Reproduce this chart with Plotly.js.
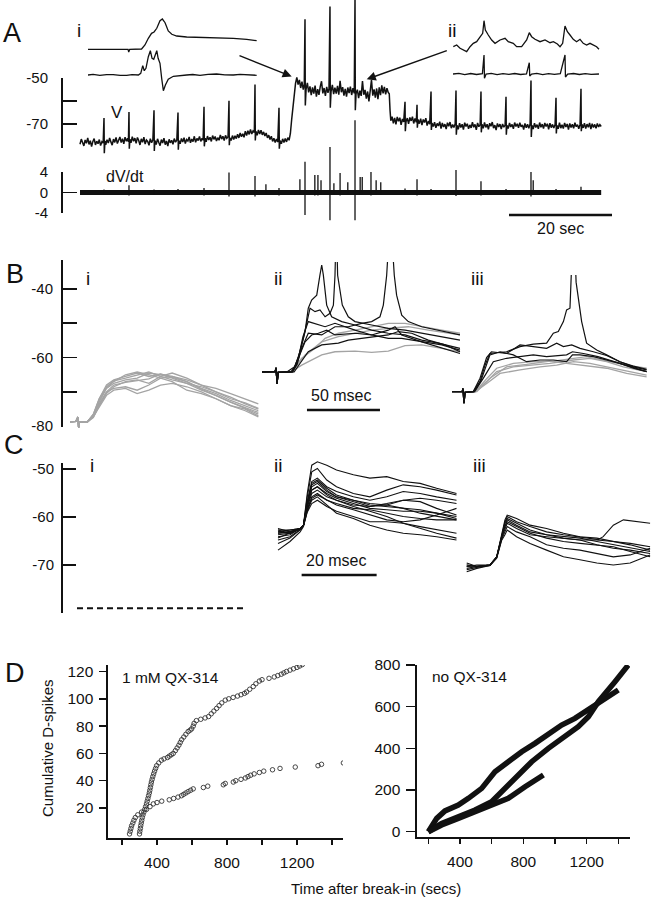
<!DOCTYPE html>
<html><head><meta charset="utf-8">
<script src="https://cdn.plot.ly/plotly-3.0.1.min.js"></script>
<style>html,body{margin:0;padding:0;background:#fff;}#chart{width:651px;height:899px;}</style>
</head><body><div id="chart"></div>
<script>
// ---------------- DATA ----------------
// Panel A: membrane potential V (time s, mV)
const vTrace = [
[0,-78.6],[0.25,-76.4],[0.5,-77.9],[0.75,-79.3],[1,-76.8],[1.25,-78.2],[1.5,-75.9],[1.75,-78.7],[2,-77.1],[2.25,-79.6],[2.5,-77.4],[2.75,-76.2],[3,-78.9],[3.25,-77.3],[3.5,-78.4],[3.75,-76.6],[4,-79.2],[4.25,-77.5],[4.5,-78.1],
[4.66,-67.4],[4.72,-82.5],[4.85,-77.2],
[5,-78.8],[5.25,-76.7],[5.5,-78.1],[5.75,-75.9],[6,-77.6],[6.25,-79.0],[6.5,-76.4],[6.75,-77.8],[7,-75.7],[7.25,-78.3],[7.5,-76.9],[7.75,-75.5],[8,-77.9],[8.25,-76.2],[8.5,-78.4],[8.75,-75.6],[9,-77.3],[9.25,-76.1],[9.4,-77.6],
[9.51,-64.8],[9.57,-80.5],[9.7,-76.5],
[9.9,-78.0],[10.15,-75.4],[10.4,-77.3],[10.65,-76.0],[10.9,-78.2],[11.15,-75.7],[11.4,-77.0],[11.65,-78.9],[11.9,-76.3],[12.15,-77.8],[12.4,-75.6],[12.65,-78.5],[12.9,-76.8],[13.15,-77.4],[13.4,-79.1],[13.65,-76.2],[13.9,-78.0],[14.15,-76.7],
[14.37,-64],[14.43,-81.5],[14.55,-77],
[14.8,-78.7],[15.05,-76.3],[15.3,-77.9],[15.55,-79.2],[15.8,-76.6],[16.05,-78.1],[16.3,-76.0],[16.55,-78.8],[16.8,-77.2],[17.05,-79.4],[17.3,-76.5],[17.55,-78.0],[17.8,-76.9],[18.05,-78.6],[18.3,-76.2],[18.55,-77.7],[18.8,-76.8],
[19.03,-65],[19.09,-81],[19.2,-77],
[19.45,-78.4],[19.7,-76.1],[19.95,-77.7],[20.2,-75.8],[20.45,-78.3],[20.7,-76.6],[20.95,-77.2],[21.2,-75.5],[21.45,-78.0],[21.7,-76.4],[21.95,-77.5],[22.2,-75.2],[22.45,-77.8],[22.7,-76.1],[22.95,-77.0],[23.2,-75.3],[23.45,-77.4],[23.7,-76.0],[23.9,-76.9],
[24.08,-62.5],[24.14,-79.5],[24.3,-76],
[24.5,-77.6],[24.75,-75.1],[25,-76.8],[25.25,-75.6],[25.5,-77.4],[25.75,-74.9],[26,-76.5],[26.25,-75.3],[26.5,-77.2],[26.75,-75.8],[27,-76.9],[27.25,-74.6],[27.5,-76.4],[27.75,-75.2],[28,-77.0],[28.25,-74.8],[28.5,-76.1],[28.75,-75.4],
[28.93,-60],[28.99,-79],[29.1,-75.8],
[29.35,-77.0],[29.6,-74.9],[29.85,-76.6],[30.1,-75.0],[30.35,-76.2],[30.6,-74.3],[30.85,-75.9],[31.1,-73.8],[31.35,-75.4],[31.6,-74.1],[31.85,-75.6],[32.1,-73.0],[32.35,-74.9],[32.6,-72.8],[32.85,-74.4],[33.1,-72.3],[33.35,-74.2],[33.6,-72.9],[33.85,-73.6],
[33.98,-53],[34.04,-77],[34.15,-73],
[34.4,-74.8],[34.65,-72.5],[34.9,-74.2],[35.15,-72.6],[35.4,-74.6],[35.65,-73.3],[35.9,-75.1],[36.15,-73.8],[36.4,-75.9],[36.65,-74.7],[36.9,-76.6],[37.15,-75.2],[37.4,-77.4],[37.65,-76.0],[37.9,-77.9],[38.15,-76.4],[38.4,-77.6],
[38.64,-63],[38.7,-80.5],[38.85,-77],
[39.1,-78.4],[39.35,-76.3],[39.6,-77.9],[39.85,-76.1],[40.1,-77.6],[40.35,-75.8],[40.6,-76.9],[40.85,-74.0],[41.1,-68],[41.35,-63],[41.6,-57],[41.85,-52.5],[42.1,-50],[42.35,-53],[42.6,-51],[42.85,-54.5],[43.1,-51.8],[43.35,-55.2],[43.55,-53],
[43.69,-25],[43.75,-62],[43.9,-55],
[44.15,-52.3],[44.4,-56.4],[44.65,-53.8],[44.9,-57.6],[45.15,-54.2],[45.4,-56.9],[45.65,-53.5],[45.9,-58.2],[46.15,-55.0],[46.4,-57.4],[46.65,-53.9],[46.9,-51.6],[47.15,-56.8],[47.4,-54.5],[47.65,-57.9],[47.9,-54.0],[48.15,-56.6],[48.35,-54.8],
[48.54,-19.6],[48.6,-63],[48.75,-56],
[49.0,-53.2],[49.25,-57.1],[49.5,-54.4],[49.75,-56.9],[50.0,-53.6],[50.25,-57.4],[50.5,-51.4],[50.75,-56.3],[51.0,-54.1],[51.25,-57.8],[51.5,-54.9],[51.75,-58.2],[52.0,-54.3],[52.25,-56.7],[52.5,-53.9],[52.75,-57.5],[53.0,-54.6],[53.25,-56.8],
[53.40,-16.5],[53.46,-64],[53.6,-57],
[53.85,-55.2],[54.1,-58.8],[54.35,-55.6],[54.6,-57.9],[54.85,-51.5],[55.1,-57.4],[55.35,-55.3],[55.6,-59.1],[55.85,-56.0],[56.1,-60.2],[56.35,-55.8],[56.6,-51.0],[56.85,-57.8],[57.1,-55.1],[57.35,-58.6],[57.6,-54.7],[57.85,-59.3],[58.1,-54.2],[58.35,-57.6],[58.6,-53.4],[58.85,-56.8],[59.1,-54.0],[59.35,-57.2],[59.6,-54.6],[59.85,-56.4],[60.05,-57],
[60.2,-64],[60.35,-68.5],[60.6,-66.8],[60.85,-69.6],[61.1,-67.3],[61.35,-70.1],[61.6,-66.9],[61.85,-68.8],[62.1,-67.2],[62.35,-70.3],[62.6,-67.8],[62.85,-69.1],
[63.11,-60.4],[63.17,-73],[63.3,-69],
[63.55,-67.4],[63.8,-69.9],[64.05,-67.1],[64.3,-68.6],[64.55,-66.8],[64.8,-69.7],[65.05,-67.5],[65.3,-69.2],
[65.44,-61.7],[65.5,-71.5],[65.65,-68],
[65.9,-69.8],[66.15,-67.6],[66.4,-70.4],[66.65,-68.0],[66.9,-69.3],[67.15,-67.4],[67.4,-70.6],[67.65,-68.6],[67.9,-70.0],
[68.16,-56],[68.22,-72.5],[68.35,-69.5],
[68.6,-71.0],[68.85,-69.2],[69.1,-71.6],[69.35,-69.7],[69.6,-70.8],[69.85,-68.9],[70.1,-71.9],[70.35,-69.5],[70.6,-71.2],[70.85,-70.0],[71.1,-72.1],[71.35,-69.4],[71.6,-70.9],[71.85,-69.1],[72.1,-71.7],[72.35,-70.2],[72.6,-71.4],[72.85,-69.8],
[73.01,-55.6],[73.07,-74.5],[73.2,-70.5],
[73.45,-72.2],[73.7,-69.6],[73.95,-71.4],[74.2,-70.0],[74.45,-72.3],[74.7,-69.4],[74.95,-71.0],[75.2,-69.8],[75.45,-72.0],[75.7,-70.3],[75.95,-71.6],[76.2,-69.2],[76.45,-71.3],[76.7,-70.1],[76.95,-72.4],[77.2,-69.5],[77.45,-71.1],[77.7,-70.2],
[77.86,-56],[77.92,-73.5],[78.05,-70],
[78.3,-71.8],[78.55,-69.3],[78.8,-71.4],[79.05,-70.0],[79.3,-72.2],[79.55,-69.6],[79.8,-70.9],[80.05,-69.1],[80.3,-71.7],[80.55,-70.4],[80.8,-72.5],[81.05,-69.7],[81.3,-71.2],[81.55,-70.0],[81.8,-72.1],[82.05,-69.9],[82.3,-71.3],[82.55,-70.4],
[82.72,-58.3],[82.78,-74.5],[82.9,-70.5],
[83.15,-71.9],[83.4,-69.5],[83.65,-71.2],[83.9,-70.1],[84.15,-72.0],[84.4,-69.3],[84.65,-71.0],[84.9,-69.8],[85.15,-71.6],[85.4,-69.4],[85.65,-71.1],[85.9,-70.3],[86.15,-72.3],[86.4,-69.7],[86.65,-71.5],[86.9,-70.0],[87.15,-71.8],[87.4,-69.9],
[87.57,-51.3],[87.63,-75.5],[87.75,-70.5],
[88.0,-72.1],[88.25,-69.6],[88.5,-71.4],[88.75,-70.2],[89.0,-72.0],[89.25,-69.3],[89.5,-71.3],[89.75,-70.0],[90.0,-71.9],[90.25,-69.5],[90.5,-71.0],[90.75,-69.8],[91.0,-72.2],[91.25,-69.6],[91.5,-71.5],[91.75,-70.1],[92.0,-71.6],[92.25,-70.2],
[92.43,-58.7],[92.49,-74],[92.6,-70.5],
[92.85,-72.0],[93.1,-69.4],[93.35,-71.7],[93.6,-70.3],[93.85,-71.9],[94.1,-69.5],[94.35,-71.2],[94.6,-69.9],[94.85,-72.3],[95.1,-69.7],[95.35,-71.4],[95.6,-70.0],[95.85,-71.8],[96.1,-69.4],[96.35,-71.1],[96.6,-70.2],[96.85,-72.0],[97.1,-70.1],
[97.28,-54.8],[97.34,-73],[97.45,-70],
[97.7,-71.6],[97.95,-69.6],[98.2,-71.9],[98.45,-70.0],[98.7,-71.3],[98.95,-69.5],[99.2,-72.1],[99.45,-69.8],[99.7,-71.4],[99.95,-70.1],[100.2,-71.8],[100.45,-69.7],[100.7,-71.2],[100.95,-70.2],[101.2,-71.0]
];
// Panel A: dV/dt baseline span and spikes (time s, top, bottom)
const dvBaseT = [0, 101.2];
const dvBaseV = [0, 0];
const dvSpikeT  = [4.66,9.51,14.37,19.03,24.08,28.93,33.98,36.1,38.64,42.7,43.69,45.6,46.2,46.8,48.54,49.3,50.5,52.0,53.40,54.4,54.8,56.5,57.5,58.4,63.11,65.44,68.16,73.01,77.86,82.72,87.57,88.0,92.43,97.28];
const dvSpikeHi = [0.6,1.4,0.6,0.7,0.9,3.9,3.2,1.6,0.9,2.6,6.0,3.4,3.4,2.4,8.9,1.8,3.8,2.0,14.1,3.0,3.0,4.0,2.4,2.0,0.8,2.6,0.7,4.4,2.2,0.7,4.0,2.4,0.7,1.1];
const dvSpikeLo = [-0.5,-0.6,-0.5,-0.5,-0.6,-0.8,-0.8,-0.4,-0.6,-0.5,-4.4,-0.6,-0.6,-0.5,-5.4,-0.5,-0.6,-0.5,-5.4,-0.5,-0.5,-0.6,-0.5,-0.5,-0.5,-0.6,-0.5,-0.7,-0.6,-0.5,-0.8,-0.5,-0.5,-0.5];
const scaleBarA = {start: 83.3, length: 20, level: -4.4, label: '20 sec'};
const vTicks = [-80,-70,-60,-50], vTickText = ['','-70','','-50'];
const dvTicks = [-4,0,4], dvTickText = ['-4','0','4'];

// Insets (arbitrary units)
const insetI_top = [[0,50.7],[10,50.7],[22.9,50.7],[23.7,50.7],[24.1,48],[24.7,50.7],[31.7,51],[33.7,55],[35.7,61.7],[37.6,66.7],[39.1,68],[40.7,71.7],[42.6,79.3],[44,81],[45.6,77.3],[47.5,69],[49.6,65.7],[52.5,64],[58.4,63],[66.3,62.7],[76.1,62.3],[86,61.7],[93.9,60.7],[99.8,59.3]];
const insetI_bot = [[0,25],[3,25.6],[7,24.7],[11,25.4],[14.9,25.3],[19,24.6],[22.9,24.7],[26,25.4],[29.8,25],[31.2,26.7],[32.4,34.3],[33.3,29.3],[34.3,31.7],[35.7,43.3],[36.9,49.3],[37.9,41.7],[38.9,40.7],[39.9,46.7],[40.7,49.3],[41.5,41.7],[42.6,36.7],[43.6,21.7],[44.6,9.3],[45.8,15],[47.5,20.7],[50.5,23.7],[54,24.6],[58.4,25],[62,25.5],[66.3,24.7],[71,25.6],[76.1,26],[81,25.2],[86,25],[90,25.6],[93.9,25],[99.8,24.7]];
const insetII_top = [[0.2,43.3],[2.5,45],[4.8,41.7],[9.3,38.3],[11.6,43.3],[13.8,46.7],[16.1,48.3],[18.4,53.3],[20.2,56.7],[21.1,69.3],[22,60],[24,55],[26.3,50],[28.6,46.7],[32,50],[35.4,51.7],[37.6,48.3],[41,46.7],[43.3,43.3],[46.7,43.3],[50.1,50],[51.9,57.3],[53.5,53.3],[55.8,50.7],[59.2,48.3],[62.6,50],[66,47.3],[68.3,48.3],[71,46],[72.8,43.3],[74.6,46.7],[76.2,64],[77.8,58.3],[79.6,55],[81.8,50.7],[84.1,48.3],[86.4,50.7],[88.6,46.7],[90.9,45],[93.2,46.7],[95.4,45],[97.7,43.3],[99.3,40.7]];
const insetII_bot = [[0,16],[4,16.7],[8,15.3],[12,16.5],[16,15.5],[20,16.3],[21.1,35],[21.4,11.7],[22.5,16],[26,16.6],[30,15.4],[34,16.4],[38,15.6],[42,16.5],[46,15.5],[50,16.2],[51.9,27.3],[52.2,14],[53.5,16],[57,16.6],[61,15.4],[65,16.3],[69,15.6],[73,16.4],[76.2,35],[76.5,13],[78,16],[82,16.5],[86,15.5],[90,16.4],[94,15.6],[99.3,16]];

// Panel B (ms, mV)
const bTicks = [-80,-70,-60,-50,-40], bTickText = ['-80','','-60','','-40'];
const biT = [0,4,5.4,5.9,6.5,12,16,20,25,30,38,46,54,62,70,80,90,100,110,120,129];
const biBase = [-78.7,-78.6,-77.3,-80.4,-78.8,-78.7];
const biRise = [
 [-76.5,-72,-68,-66.5,-65.5,-64.5,-65.5,-64.8,-65.5,-67,-69,-70.5,-72.5,-74,-75.5],
 [-77,-73,-69,-67.5,-66.5,-66,-64.5,-65,-66,-67.5,-69.5,-71,-73,-74.5,-76],
 [-77.5,-74,-70.5,-68.5,-67,-66.5,-67.5,-65.5,-64.5,-66,-68,-70,-71.5,-73.5,-75],
 [-77,-73.5,-70,-69,-68.5,-69.5,-68,-66,-67,-69.5,-70.5,-72,-74,-75,-77],
 [-76.8,-72.5,-68.8,-67,-65,-64.2,-65,-66,-65.5,-66.5,-68,-69,-70.5,-72,-73.5],
 [-77.2,-74.5,-71,-69.5,-69,-70.5,-69.5,-68,-67.5,-68.5,-70,-72,-74,-75.5,-77.3],
 [-76.5,-72,-68.5,-66.8,-66,-65.2,-64.2,-65.5,-66.5,-67.5,-68.5,-70,-72,-73.2,-74.8],
 [-77.3,-73.8,-70,-68,-67.2,-66.8,-66.2,-64.8,-65.8,-67,-69.2,-71.2,-73,-74.8,-76.5]
];
const biiBase = [[0,-64.2],[9,-64.1],[9.6,-63.0],[10.3,-67.6],[11.1,-64.3],[17,-64.2]];
const biiBlack = [
 [[22.6,-62.6],[26,-58.3],[29.5,-52.4],[31.7,-45.6],[34,-43.2],[37.5,-41.8],[39.7,-35.9],[40.9,-33],[42,-35.9],[44.3,-44.7],[47.7,-48.1],[54.6,-49.5],[63.7,-50.5],[75.1,-52],[86.5,-52.9],[98,-53.4],[109.4,-54.9],[120.8,-55.8],[135.6,-57.3]],
 [[21,-64],[24.9,-60],[28.3,-54.4],[32.9,-45.6],[36.3,-46.6],[39.7,-46.1],[43.2,-48.1],[46.6,-47.1],[48.9,-44.7],[50,-36],[50.9,-20],[51.8,-36],[53,-39.8],[55,-44.7],[59.1,-48.1],[63.7,-49.5],[75.1,-50.5],[86.5,-51.5],[98,-52],[109.4,-52.9],[120.8,-53.9],[135.6,-54.9]],
 [[20,-64.1],[23.7,-62],[27.2,-57.3],[31.7,-52.9],[40.9,-53.4],[50,-51],[59.1,-51],[68.3,-50],[75.1,-49.5],[80.8,-48.1],[83.1,-44.7],[85.4,-36],[87.9,-18],[90.6,-36],[92.2,-41.8],[95.7,-47.6],[100.2,-49.5],[109.4,-51],[120.8,-52],[135.6,-53.4]],
 [[21,-64.1],[24,-62],[26,-59],[29.5,-55.4],[34,-53.4],[38.6,-52.9],[44.3,-52],[50,-53.4],[63.7,-52.9],[75.1,-53.4],[86.5,-52],[91.1,-51],[95.7,-53.4],[109.4,-55.4],[120.8,-56.8],[135.6,-58.8]],
 [[22,-64.2],[27.2,-61],[31.7,-58.3],[40.9,-56.3],[52.3,-55.8],[59.1,-54.9],[68.3,-54.4],[77.4,-53.9],[86.5,-53.4],[93.4,-52.4],[102.5,-52.9],[113.9,-54.9],[125.4,-56.3],[135.6,-58.3]],
 [[21,-64.2],[25,-60],[28,-54],[31.7,-49.5],[35.2,-50],[43.2,-51],[50,-50],[56.9,-51],[63.7,-52],[75.1,-53.4],[86.5,-54.4],[95.7,-54.4],[109.4,-55.4],[123.1,-56.3],[135.6,-57.8]]
];
const biiGray = [
 [[20.3,-64.1],[27.2,-62.2],[34,-60.7],[40.9,-59.2],[50,-58.3],[63.7,-58.1],[75.1,-58.5],[86.5,-58.1],[98,-56.5],[109.4,-56.3],[123.1,-57.3],[135.6,-58.3]],
 [[20,-64.1],[27.2,-60.2],[36.3,-57.3],[43.2,-54.4],[52.3,-52.9],[63.7,-52],[75.1,-51],[86.5,-50],[98,-50],[109.4,-51],[123.1,-52],[135.6,-52.9]],
 [[21,-64.1],[29.5,-59.2],[40.9,-55.4],[52.3,-53.9],[63.7,-52.9],[75.1,-52],[91.1,-51.3],[100.2,-51],[113.9,-52],[135.6,-53.4]]
];
const scaleBarB = {start: 30.8, length: 50, level: -75.3, label: '50 msec'};
const biiiBase = [[0,-69.9],[7,-69.9],[7.5,-69.0],[8.2,-73.3],[9,-70.1],[13,-69.9]];
const biiiBlack = [
 [[14.6,-69.9],[19.2,-67],[22.6,-62.2],[26,-58.8],[37.4,-58.3],[46.6,-56.8],[55.7,-56.1],[64.8,-55.8],[69.4,-52.9],[72.8,-52.4],[76.3,-49.5],[78.5,-46.1],[80.8,-45.6],[81.5,-38],[83.3,-18],[85,-38],[88.8,-49.5],[92.2,-55.8],[99.1,-57.8],[105.9,-59.2],[115,-61.2],[124.2,-62.7],[133.3,-63.6]],
 [[14.6,-69.9],[19.2,-66],[23.7,-60],[27,-58.3],[37.4,-58.8],[46.6,-56.3],[55.7,-56.8],[64.8,-57.3],[71.7,-55.8],[76.3,-56.8],[82,-56.3],[87.7,-57.3],[96.8,-58.3],[105.9,-59.4],[115,-61.2],[124.2,-62.5],[133.3,-63.4]],
 [[15.5,-69.9],[21.5,-66],[28.3,-61.2],[37.4,-60.2],[46.6,-59.7],[55.7,-59.2],[64.8,-59.7],[78.5,-59.2],[82.5,-58.3],[90,-58.8],[100,-59.7],[110,-61],[120,-62.2],[133.3,-64.1]],
 [[15,-69.9],[20,-66.5],[26,-59.2],[32.9,-58.3],[42,-59.2],[51.1,-61.2],[60.3,-60.7],[69.4,-60.7],[78.5,-61.2],[82.5,-59.2],[87.7,-59.2],[96.8,-59.7],[105.9,-60.7],[115,-61.7],[124.2,-63.1],[133.3,-64.1]]
];
const biiiGray = [
 [[16,-69.9],[23.7,-67],[30.6,-64.1],[42,-62.7],[55.7,-62.2],[67,-61.7],[83.1,-60.7],[94.5,-60.2],[105.9,-61.2],[117.3,-62.7],[133.3,-64.1]],
 [[16,-69.9],[24,-67.5],[32.9,-64.6],[46.6,-63.6],[60.3,-62.7],[71.7,-62.2],[83.1,-61.2],[94.5,-61.7],[105.9,-62.7],[117.3,-63.6],[133.3,-65.1]],
 [[16,-69.9],[23,-66.5],[30.6,-63.1],[42,-61.7],[55.7,-61.2],[69.4,-61],[83.1,-60.2],[92.2,-59.7],[105.9,-61],[119.6,-62.2],[133.3,-63.1]],
 [[17,-69.9],[26,-66],[37.4,-62.7],[51.1,-62],[67,-61],[78.5,-61.7],[90,-62.2],[105.9,-63.1],[119.6,-64.6],[133.3,-65.6]]
];

// Panel C (ms, mV)
const cTicks = [-80,-70,-60,-50], cTickText = ['','-70','-60','-50'];
const ciLine = {t: [0, 44.8], v: [-79, -79]};
const ciiT = [0,3.2,5.9,6.8,7.8,9.0,10.5,13.0,15.6,20.1,24.5,29.0,33.4,37.9,42.3,47.6];
const ciiV = [
 [-62.4,-63.1,-62.4,-61.7,-55.1,-49.2,-48.5,-49.2,-50.2,-51.2,-51.9,-51.6,-52.6,-53.0,-54.0,-55.1],
 [-62.7,-62.7,-62.4,-61.7,-55.8,-50.6,-49.9,-52.3,-53.7,-55.1,-55.8,-54.4,-53.3,-53.7,-54.4,-55.4],
 [-63.1,-63.4,-62.4,-61.7,-56.8,-52.6,-51.9,-53.7,-54.7,-55.8,-56.5,-55.8,-54.7,-55.1,-55.8,-56.5],
 [-63.4,-63.1,-62.4,-61.7,-57.0,-53.0,-52.3,-54.0,-55.4,-56.5,-57.2,-57.5,-56.5,-56.1,-56.5,-57.2],
 [-63.7,-63.4,-62.4,-61.7,-57.2,-53.3,-52.6,-54.4,-55.8,-56.5,-57.5,-57.8,-58.2,-58.5,-59.2,-59.9],
 [-64.1,-63.7,-62.4,-61.7,-57.3,-53.7,-53.0,-54.7,-55.8,-56.8,-57.8,-57.2,-56.5,-56.8,-58.2,-59.6],
 [-64.4,-63.4,-62.4,-61.7,-57.6,-54.4,-53.7,-55.1,-56.1,-57.2,-58.2,-58.5,-58.8,-58.8,-59.2,-60.3],
 [-63.1,-62.7,-62.4,-61.7,-58.0,-55.1,-54.4,-55.8,-56.5,-57.5,-57.8,-57.5,-58.2,-59.2,-59.9,-60.6],
 [-63.4,-63.1,-62.4,-61.7,-58.4,-55.8,-55.1,-56.5,-57.2,-58.2,-58.5,-59.2,-59.9,-60.3,-60.6,-60.6],
 [-62.7,-63.4,-62.4,-61.7,-58.5,-56.1,-55.4,-56.5,-57.5,-58.5,-59.6,-60.6,-61.0,-60.6,-59.6,-58.2],
 [-64.8,-64.1,-62.6,-61.8,-59.0,-57.2,-56.5,-57.8,-58.8,-59.9,-61.0,-61.0,-61.3,-62.0,-62.7,-63.4],
 [-66.9,-65.1,-63.1,-62.0,-58.8,-56.5,-55.8,-57.5,-59.2,-60.3,-61.7,-62.7,-63.4,-63.7,-64.1,-64.8],
 [-65.5,-64.4,-62.7,-61.8,-57.6,-54.4,-53.7,-55.4,-56.5,-57.8,-58.8,-59.9,-61.3,-62.4,-63.4,-64.4]
];
const scaleBarC = {start: 6.3, length: 20, level: -72.1, label: '20 msec'};
const ciiiT = [0,2.7,6.2,8.0,9.3,10.2,10.8,13.3,16.9,21.3,25.8,30.2,34.7,39.1,43.6,48.9];
const ciiiV = [
 [-69.6,-70.3,-70.0,-68.3,-63.7,-60.6,-59.6,-60.3,-61.7,-62.4,-63.4,-64.1,-64.4,-65.1,-65.8,-66.9],
 [-70.3,-70.0,-70.0,-68.4,-64.2,-61.3,-60.3,-61.3,-62.7,-63.7,-64.1,-64.4,-65.1,-65.8,-66.5,-67.2],
 [-70.7,-70.3,-70.0,-68.3,-64.2,-61.7,-60.6,-61.7,-63.1,-63.7,-64.4,-64.8,-64.8,-65.1,-65.5,-66.2],
 [-71.0,-70.5,-70.1,-68.4,-64.4,-62.4,-61.3,-62.4,-63.7,-64.1,-64.4,-64.8,-65.8,-66.5,-66.9,-67.6],
 [-71.4,-70.7,-70.1,-68.5,-64.7,-63.1,-62.0,-63.1,-64.1,-65.8,-66.5,-66.9,-67.6,-68.3,-67.9,-66.5],
 [-70.3,-70.2,-70.1,-68.6,-64.9,-63.7,-62.7,-64.1,-65.5,-66.9,-68.3,-68.9,-69.6,-70.0,-69.6,-67.9],
 [-70.0,-70.3,-70.0,-68.3,-64.2,-61.9,-61.0,-62.0,-63.4,-64.4,-65.1,-65.5,-65.8,-66.2,-67.2,-68.3]
];
const ciiiLate = [[0,-70.0],[2.7,-70.3],[6.2,-70.0],[8.0,-68.3],[9.3,-64.1],[10.2,-61.0],[10.8,-59.9],[13.3,-61.0],[16.9,-62.0],[21.3,-63.1],[25.8,-63.7],[30.2,-64.1],[35.1,-64.7],[36.4,-64.1],[39.1,-61.7],[41.8,-60.6],[45.3,-61.0],[48.9,-61.3]];

// Panel D
const dTicksX = [200,400,600,800,1000,1200,1400], dTickTextX = ['','400','','800','','1200',''];
const dTicksYL = [20,40,60,80,100,120];
const dTicksYR = [0,200,400,600,800];
const qxN1 = [1,3,5,7,9,11,13,15,17,19,21,23,25,27,29,31,33,35,37,39,41,43,45,47,49,51,53,55,56,57,58,59,60,62,64,66,68,70,72,74,76,77,78,80,82,84,85,86,87,89,91,93,95,97,99,100,101,102,103,104,105,107,109,111,113,114,115,116,117,118,119,120,121,122,123,124,125];
const qxT1 = [300,302,305,307,310,313,316,320,325,330,335,340,344,348,352,356,359,362,365,368,372,376,381,386,392,398,410,425,440,460,470,482,493,505,515,525,533,541,553,565,578,589,598,607,612,625,650,675,695,710,725,741,755,770,790,810,835,860,880,900,912,930,950,965,985,1000,1040,1070,1090,1110,1125,1140,1160,1180,1200,1215,1230];
const qxN2 = [1,3,5,7,9,11,13,15,17,19,21,23,24,25,26,27,28,29,30,31,32,33,34,35,36,37,38,39,40,41,42,43,44,45,46,47,48,49,50,51,52,53];
const qxT2 = [243,247,251,255,262,268,276,290,312,340,360,379,400,427,470,495,520,540,552,565,578,592,607,665,690,779,790,836,850,880,905,920,935,955,985,1010,1060,1103,1190,1320,1340,1465];
const noqxA_T = [200,253,305,389,453,537,621,705,790,874,958,1042,1126,1211,1295,1400];
const noqxA_N = [0,64,100,128,160,208,288,336,384,424,472,512,544,584,624,680];
const noqxB_T = [200,284,389,495,600,684,768,853,958,1042,1147,1211,1274,1379,1463];
const noqxB_N = [0,40,72,104,144,208,272,336,400,448,504,552,624,720,800];
const noqxC_T = [200,284,389,495,621,705,811,927];
const noqxC_N = [0,32,64,96,128,160,216,272];

// ---------------- LAYOUT HELPERS ----------------
const W = 651, H = 899;
const FONT = 'Liberation Sans, Arial, sans-serif';
const BLK = '#111111', GRY = '#a4a4a4';
const fx = p => p / W;
const fy = p => 1 - p / H;
const domX = (a, b) => [fx(a), fx(b)];
const domY = (top, bot) => [fy(bot), fy(top)];
const xr = (lo, hi, p0, v0, s) => [v0 + (lo - p0) / s, v0 + (hi - p0) / s];
const yr = (top, bot, p0, v0, s) => [v0 - (bot - p0) / s, v0 - (top - p0) / s];

const traces = [];
function addLine(pairs, xa, ya, color, width, dash) {
  traces.push({type:'scatter', mode:'lines', x: pairs.map(p => p[0]), y: pairs.map(p => p[1]),
    xaxis: xa, yaxis: ya, line: {color: color, width: width, dash: dash || 'solid'}, hoverinfo: 'skip'});
}
function addXY(xs, ys, xa, ya, color, width, dash) {
  traces.push({type:'scatter', mode:'lines', x: xs, y: ys, xaxis: xa, yaxis: ya,
    line: {color: color, width: width, dash: dash || 'solid'}, hoverinfo: 'skip'});
}
function addBar(bar, xa, ya) {
  addXY([bar.start, bar.start + bar.length], [bar.level, bar.level], xa, ya, BLK, 2.5);
}

// Panel A
addLine(vTrace, 'x', 'y', BLK, 1.5);
addXY(dvBaseT, dvBaseV, 'x', 'y3', BLK, 5);
const spX = [], spY = [];
dvSpikeT.forEach((t, i) => { spX.push(t, t, null); spY.push(dvSpikeLo[i], dvSpikeHi[i], null); });
addXY(spX, spY, 'x', 'y3', BLK, 1.3);
addBar(scaleBarA, 'x', 'y3');
addLine(insetI_top, 'x5', 'y5', BLK, 1.3);
addLine(insetI_bot, 'x5', 'y5', BLK, 1.3);
addLine(insetII_top, 'x6', 'y6', BLK, 1.3);
addLine(insetII_bot, 'x6', 'y6', BLK, 1.3);

// Panel B
biRise.forEach(r => addXY(biT, biBase.concat(r), 'x7', 'y7', GRY, 1.3));
biiGray.forEach(tr => addLine(biiBase.concat(tr), 'x8', 'y8', GRY, 1.3));
biiBlack.forEach(tr => addLine(biiBase.concat(tr), 'x8', 'y8', BLK, 1.2));
addBar(scaleBarB, 'x8', 'y8');
biiiGray.forEach(tr => addLine(biiiBase.concat(tr), 'x9', 'y9', GRY, 1.3));
biiiBlack.forEach(tr => addLine(biiiBase.concat(tr), 'x9', 'y9', BLK, 1.2));

// Panel C
addXY(ciLine.t, ciLine.v, 'x11', 'y11', BLK, 2, '6px,4px');
ciiV.forEach(v => addXY(ciiT, v, 'x12', 'y11', BLK, 1.1));
addBar(scaleBarC, 'x12', 'y11');
ciiiV.forEach(v => addXY(ciiiT, v, 'x13', 'y11', BLK, 1.1));
addLine(ciiiLate, 'x13', 'y11', BLK, 1.1);

// Axis frames (empty subplots carrying the vertical scale axes)
['y2','y4','y10','y14'].forEach(ya => traces.push({type:'scatter', mode:'lines', x:[null], y:[null], xaxis:'x2', yaxis: ya, hoverinfo:'skip'}));

// Panel D
traces.push({type:'scatter', mode:'markers', x: qxT1, y: qxN1, xaxis:'x15', yaxis:'y15',
  marker:{symbol:'circle-open', size:4.5, color:'#333', line:{width:0.9, color:'#333'}}, hoverinfo:'skip'});
traces.push({type:'scatter', mode:'markers', x: qxT2, y: qxN2, xaxis:'x15', yaxis:'y15',
  marker:{symbol:'circle-open', size:4.5, color:'#333', line:{width:0.9, color:'#333'}}, hoverinfo:'skip'});
addXY(noqxA_T, noqxA_N, 'x16', 'y16', BLK, 5.5);
addXY(noqxB_T, noqxB_N, 'x16', 'y16', BLK, 5.5);
addXY(noqxC_T, noqxC_N, 'x16', 'y16', BLK, 5.5);

const hid = (domain, range, anchor) => ({domain, range, anchor, visible:false, fixedrange:true, showgrid:false, zeroline:false});
const frameY = (top, bot, range, tv, tt, standoff, ticklen) => ({
  domain: domY(top, bot), range, anchor:'x2', side:'left', showline:true, linewidth:2, linecolor:BLK,
  ticks:'inside', ticklen: ticklen, tickwidth:1.6, tickcolor:BLK, tickvals: tv, ticktext: tt,
  tickfont:{family:FONT, size:15, color:BLK}, ticklabelstandoff: standoff,
  showgrid:false, zeroline:false, fixedrange:true
});
const dAxisX = (a, b, range, anchor) => ({domain: domX(a, b), range, anchor, showline:true, linewidth:1.6, linecolor:BLK,
  ticks:'outside', ticklen:5, tickwidth:1.5, tickcolor:BLK, tickvals: dTicksX, ticktext: dTickTextX,
  tickfont:{family:FONT, size:15.5, color:BLK}, ticklabelstandoff: 5, showgrid:false, zeroline:false, fixedrange:true});
const dAxisY = (top, bot, range, anchor, tv, ticklen) => ({domain: domY(top, bot), range, anchor, showline:true, linewidth:1.6, linecolor:BLK,
  ticks:'outside', ticklen: ticklen, tickwidth:1.5, tickcolor:BLK, tickvals: tv,
  tickfont:{family:FONT, size:15.5, color:BLK}, ticklabelstandoff: 3, showgrid:false, zeroline:false, fixedrange:true});

const ann = (text, x, y, size, extra) => Object.assign({text, x: fx(x), y: fy(y), xref:'paper', yref:'paper',
  showarrow:false, xanchor:'center', yanchor:'middle', font:{family:FONT, size, color:BLK}}, extra || {});
const arrow = (hx, hy, tx, ty) => ({text:'', x: fx(hx), y: fy(hy), xref:'paper', yref:'paper', showarrow:true,
  ax: tx - hx, ay: ty - hy, arrowhead:2, arrowsize:1.3, arrowwidth:1.4, arrowcolor:BLK, standoff:0});

const layout = {
  width: W, height: H, margin:{l:0, r:0, t:0, b:0},
  paper_bgcolor:'#ffffff', plot_bgcolor:'rgba(0,0,0,0)', showlegend:false, hovermode:false, dragmode:false,
  font:{family:FONT, color:BLK},
  xaxis: hid(domX(63,620), xr(63,620,80,0,5.15), 'y'),
  yaxis: hid(domY(0,160), yr(0,160,77.5,-50,2.333), 'x'),
  yaxis3: hid(domY(110,225), yr(110,225,192.5,0,5.125), 'x'),
  xaxis2: hid(domX(63,64), [0,1], 'y2'),
  yaxis2: frameY(77.5, 147.8, yr(77.5,147.8,77.5,-50,2.333), vTicks, vTickText, 10, 14),
  yaxis4: frameY(172, 213.3, yr(172,213.3,192.5,0,5.125), dvTicks, dvTickText, 10, 14),
  xaxis5: hid(domX(88,258), [0,100.6], 'y5'),
  yaxis5: hid(domY(10,100), [0,90], 'x5'),
  xaxis6: hid(domX(453,600), [0,100], 'y6'),
  yaxis6: hid(domY(10,90), [0,80], 'x6'),
  xaxis7: hid(domX(63,262), xr(63,262,70,0,1.46), 'y7'),
  yaxis7: hid(domY(255,432), yr(255,432,289,-40,3.43), 'x7'),
  xaxis8: hid(domX(255,470), xr(255,470,262,0,1.46), 'y8'),
  yaxis8: hid(domY(262,432), yr(262,432,289,-40,3.43), 'x8'),
  xaxis9: hid(domX(445,651), xr(445,651,452,0,1.46), 'y9'),
  yaxis9: hid(domY(275,432), yr(275,432,289,-40,3.43), 'x9'),
  yaxis10: frameY(260, 426.5, yr(260,426.5,289,-40,3.43), bTicks, bTickText, 5, 14),
  xaxis11: hid(domX(63,262), xr(63,262,77,0,3.75), 'y11'),
  yaxis11: hid(domY(455,618), yr(455,618,469,-50,4.8), 'x11'),
  xaxis12: hid(domX(265,466), xr(265,466,278,0,3.75), 'y11'),
  xaxis13: hid(domX(460,651), xr(460,651,466.7,0,3.75), 'y11'),
  yaxis14: frameY(463, 613.4, yr(463,613.4,469,-50,4.8), cTicks, cTickText, 4, 13),
  xaxis15: dAxisX(108, 343, xr(108,343,157,400,0.175), 'y15'),
  yaxis15: dAxisY(665, 838, yr(665,838,835.3,0,1.365), 'x15', dTicksYL, 7),
  xaxis16: dAxisX(417, 630, xr(417,630,460,400,0.1583), 'y16'),
  yaxis16: dAxisY(665, 837, yr(665,837,831.7,0,0.2083), 'x16', dTicksYR, 9),
  annotations: [
    ann('A', 12, 33, 27), ann('i', 79, 31, 19), ann('ii', 452, 31, 19),
    ann('V', 117, 113, 17), ann('dV/dt', 125, 177, 16), ann(scaleBarA.label, 560, 229, 16),
    ann('B', 15, 274, 27), ann('i', 88, 279, 19), ann('ii', 278, 279, 19), ann('iii', 477, 279, 19),
    ann(scaleBarB.label, 341, 395, 16),
    ann('C', 14, 445, 27), ann('i', 92, 465, 19), ann('ii', 278, 465, 19), ann('iii', 479, 465, 19),
    ann(scaleBarC.label, 336, 560, 16),
    ann('D', 15, 673, 27),
    ann('Cumulative D-spikes', 47, 748, 15, {textangle:-90}),
    ann('1 mM QX-314', 171, 677, 15.5), ann('no QX-314', 470, 676, 15.5),
    ann('Time after break-in (secs)', 376, 888, 15),
    arrow(291.7, 76.5, 238, 55), arrow(366.7, 79.3, 448.3, 50)
  ]
};

Plotly.newPlot('chart', traces, layout, {staticPlot:true, displayModeBar:false});
</script></body></html>
